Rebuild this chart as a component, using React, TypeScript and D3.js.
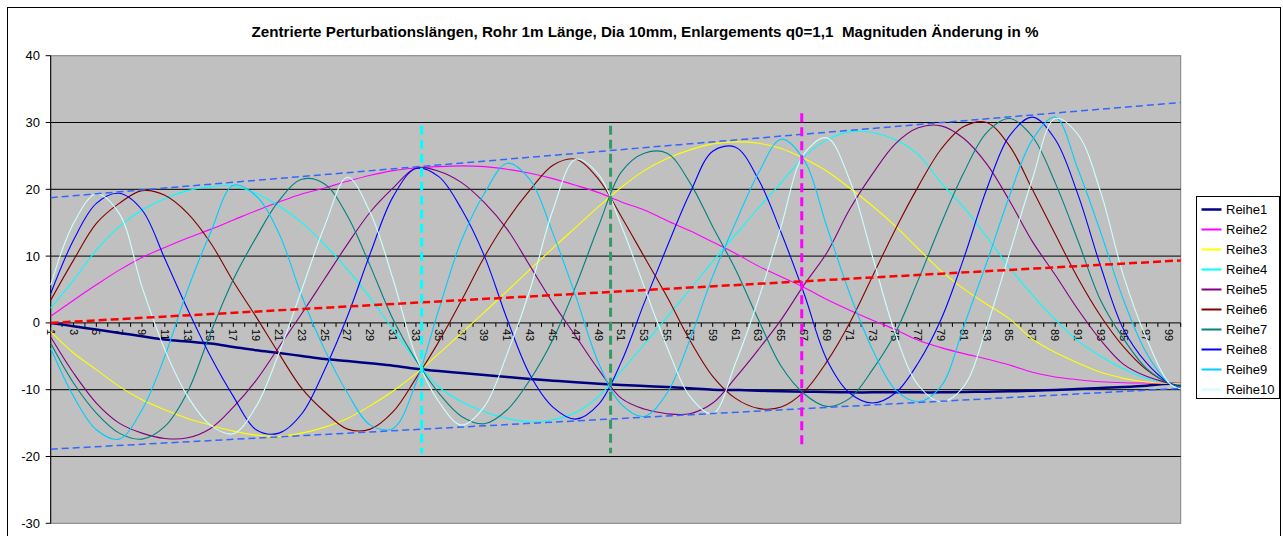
import * as d3 from "d3";

// categories sampled on the odd ticks plus the last point
const categories = [
  1, 3, 5, 7, 9, 11, 13, 15, 17, 19, 21, 23, 25, 27, 29, 31, 33, 35, 37, 39, 41, 43, 45, 47, 49,
  51, 53, 55, 57, 59, 61, 63, 65, 67, 69, 71, 73, 75, 77, 79, 81, 83, 85, 87, 89, 91, 93, 95, 97, 99, 100,
];

const reihe1 = [
  0, -0.5, -1.0, -1.5, -2.0, -2.5, -2.8, -3.1, -3.6, -4.1, -4.5, -4.95, -5.4, -5.7, -6.05, -6.4, -6.85,
  -7.2, -7.5, -7.8, -8.1, -8.4, -8.65, -8.9, -9.1, -9.3, -9.45, -9.6, -9.8, -10.0, -10.05, -10.15, -10.25,
  -10.3, -10.35, -10.4, -10.4, -10.4, -10.4, -10.4, -10.35, -10.3, -10.25, -10.15, -10.05, -9.9, -9.75,
  -9.6, -9.4, -9.1, -9.2,
];
const reihe2 = [
  1.0, 3.4, 5.7, 7.9, 9.8, 11.3, 12.7, 14.0, 15.4, 16.8, 18.1, 19.3, 20.2, 21.2, 22.1, 22.8, 23.2,
  23.4, 23.5, 23.4, 23.0, 22.4, 21.6, 20.6, 19.5, 18.1, 16.9, 15.3, 13.8, 12.1, 10.4, 8.5, 6.9,
  5.3, 3.5, 1.9, 0.4, -1.0, -2.6, -3.7, -4.6, -5.4, -6.3, -7.4, -8.1, -8.5, -8.8, -8.95, -9.0, -9.05, -9.0,
];
const reihe3 = [
  -1.3, -4.5, -7.0, -9.5, -11.5, -13.0, -14.3, -15.3, -16.2, -16.8, -17.0, -16.5, -15.6, -14.3, -12.4,
  -10.2, -7.6, -4.6, -1.5, 1.6, 4.8, 8.0, 11.2, 14.3, 17.4, 20.3, 22.8, 24.6, 25.9, 26.8, 27.1, 26.9,
  26.1, 24.6, 22.7, 20.2, 17.5, 14.5, 11.1, 7.8, 5.1, 2.8, 0.6, -2.4, -4.4, -6.0, -7.4, -8.3, -8.85,
  -9.05, -9.1,
];
const reihe4 = [
  2.2, 6.4, 10.9, 14.4, 16.9, 18.6, 19.8, 20.4, 20.5, 19.4, 17.5, 15.0, 11.7, 8.0, 3.7, -1.0, -5.6,
  -9.6, -11.8, -13.3, -14.3, -14.8, -14.5, -13.4, -11.0, -7.2, -3.2, 0.9, 5.0, 9.2, 13.2, 17.2, 21.0,
  24.9, 27.4, 28.6, 28.5, 27.4, 25.2, 21.0, 17.3, 12.9, 8.3, 4.2, 0.5, -2.7, -5.0, -6.9, -8.3, -9.05, -9.3,
];
const reihe5 = [
  -2.1, -7.5, -12.0, -15.0, -16.5, -17.3, -17.2, -15.8, -12.6, -8.6, -3.6, 1.4, 6.6, 11.8, 16.6, 20.2,
  23.2, 22.7, 21.0, 18.0, 14.0, 8.5, 3.0, -2.0, -7.0, -11.3, -12.9, -13.6, -13.6, -12.0, -8.2, -4.0,
  0.5, 5.7, 10.5, 17.0, 22.3, 26.8, 29.2, 29.5, 27.6, 23.8, 18.3, 12.2, 7.2, 2.0, -2.6, -6.2, -8.0,
  -9.05, -9.4,
];
const reihe6 = [
  3.4, 9.4, 14.9, 17.9, 19.8, 19.1, 16.4, 12.0, 6.2, 0.9, -4.6, -9.8, -13.3, -15.9, -15.9, -13.3, -8.3,
  -2.8, 3.4, 9.9, 15.4, 19.9, 23.6, 24.5, 21.5, 15.9, 9.9, 3.9, -2.6, -8.0, -11.3, -12.8, -12.6, -10.3,
  -5.8, 0.0, 7.0, 14.0, 20.4, 26.0, 29.4, 30.0, 26.5, 20.0, 13.3, 6.7, 1.0, -3.6, -7.0, -9.05, -9.5,
];
const reihe7 = [
  -3.05, -9.0, -13.5, -16.5, -17.4, -15.5, -10.3, -1.5, 6.5, 12.8, 18.3, 21.5, 20.8, 16.0, 8.5, 0.5,
  -5.6, -10.5, -14.0, -15.1, -13.0, -8.5, -2.5, 5.5, 14.5, 22.6, 25.4, 25.4, 21.0, 14.4, 8.0, 0.5,
  -6.5, -10.6, -12.5, -11.3, -7.0, -1.5, 6.4, 14.8, 22.5, 28.5, 30.6, 27.9, 21.0, 12.3, 3.3, -2.4,
  -6.8, -9.05, -9.6,
];
const reihe8 = [
  4.4, 12.4, 17.9, 19.4, 16.9, 9.6, 2.0, -5.0, -11.0, -16.0, -16.5, -13.6, -7.0, 1.0, 10.4, 18.9,
  23.1, 21.9, 17.0, 10.0, 0.5, -7.8, -12.6, -14.4, -12.2, -5.8, 3.0, 11.4, 19.4, 25.7, 26.3, 21.5,
  13.5, 4.4, -5.5, -10.5, -12.0, -10.5, -6.0, 0.5, 9.7, 20.0, 28.0, 30.8, 27.5, 19.2, 8.4, -1.0,
  -6.0, -9.05, -9.8,
];
const reihe9 = [
  -3.8, -11.0, -16.0, -17.4, -13.0, -5.0, 5.0, 13.5, 20.6, 19.0, 13.4, 4.0, -4.0, -10.5, -15.3,
  -15.8, -9.0, 2.0, 12.4, 19.4, 23.9, 21.4, 13.4, 4.0, -6.0, -12.2, -14.0, -10.5, -2.5, 7.0, 15.0,
  22.4, 27.5, 24.4, 14.4, 4.4, -4.0, -10.0, -11.8, -9.5, -0.5, 9.0, 19.0, 27.4, 30.8, 23.0, 13.5,
  3.4, -4.5, -9.05, -9.8,
];
const reihe10 = [
  5.65, 14.9, 19.3, 16.4, 5.4, -4.0, -11.0, -15.3, -16.6, -12.5, -4.5, 5.0, 14.5, 21.8, 16.5, 6.5,
  -5.0, -11.8, -15.3, -12.5, -4.6, 5.0, 16.9, 24.5, 22.2, 14.5, 5.4, -3.6, -11.0, -13.6, -6.0, 3.5,
  14.5, 25.3, 27.7, 21.4, 9.9, -1.6, -9.3, -11.8, -9.5, -0.6, 10.4, 21.5, 30.6, 28.2, 19.5, 7.0,
  -2.3, -9.05, -9.9,
];

const seriesNames = ["Reihe1", "Reihe2", "Reihe3", "Reihe4", "Reihe5", "Reihe6", "Reihe7", "Reihe8", "Reihe9", "Reihe10"];
const seriesColors = ["#000080", "#FF00FF", "#FFFF00", "#00FFFF", "#800080", "#800000", "#008080", "#0000FF", "#00CCFF", "#CCFFFF"];
const seriesValues = [reihe1, reihe2, reihe3, reihe4, reihe5, reihe6, reihe7, reihe8, reihe9, reihe10];

const yTicks = [-30, -20, -10, 0, 10, 20, 30, 40];

// hand drawn helper lines
const trendCats = [1, 100];
const upperTrend = [18.75, 33.0];
const lowerTrend = [-18.9, -9.8];
const midTrend = [0, 9.35];
const markerCats = [33.5, 50.05, 66.8];
const markerColors = ["#00FFFF", "#339966", "#FF00FF"];
const markerTop = [29.5, 29.5, 31.4];
const markerBottom = [-19.5, -19.5, -18.8];

const title =
  "Zentrierte Perturbationslängen, Rohr 1m Länge, Dia 10mm, Enlargements q0=1,1  Magnituden Änderung in %";

const FONT = "'Liberation Sans', Arial, sans-serif";

export default function App() {
  const width = 1283;
  const height = 536;

  const x = d3.scaleLinear().domain([1, 100]).range([50.7, 1180.7]);
  const y = d3.scaleLinear().domain([-30, 40]).range([523.3, 55.7]);

  const line = d3
    .line<number>()
    .x((_d: number, i: number) => x(categories[i]))
    .y((d: number) => y(d))
    .curve(d3.curveCatmullRom.alpha(0.5));

  const trendLine = d3
    .line<number>()
    .x((_d: number, i: number) => x(trendCats[i]))
    .y((d: number) => y(d));

  const allCats = d3.range(1, 101);
  const labelCats = categories.filter((c) => c % 2 === 1);

  const x0 = x(1);
  const x1 = x(100);
  const yTop = y(40);
  const yBottom = y(-30);
  const yZero = y(0);

  return (
    <svg
      width={width}
      height={height}
      style={{ position: "absolute", left: 0, top: 0, background: "#fff" }}
      fontFamily={FONT}
    >
      <rect x={7.5} y={7.5} width={1273} height={600} fill="#fff" stroke="#000" strokeWidth={1} />

      <text
        x={645}
        y={37}
        textAnchor="middle"
        fontSize={15.2}
        fontWeight="bold"
        style={{ whiteSpace: "pre" }}
      >
        {title}
      </text>

      {/* plot area */}
      <rect x={x0} y={yTop} width={x1 - x0} height={yBottom - yTop} fill="#C0C0C0" stroke="#808080" />

      {yTicks
        .filter((t) => t !== 40 && t !== -30 && t !== 0)
        .map((t) => (
          <line key={t} x1={x0} x2={x1} y1={y(t)} y2={y(t)} stroke="#000" strokeWidth={1} />
        ))}

      {/* y axis */}
      <line x1={x0} x2={x0} y1={yTop} y2={yBottom} stroke="#000" />
      {yTicks.map((t) => (
        <g key={t}>
          <line x1={x0 - 5} x2={x0} y1={y(t)} y2={y(t)} stroke="#000" />
          <text x={40} y={y(t)} textAnchor="end" dominantBaseline="central" fontSize={13}>
            {t}
          </text>
        </g>
      ))}

      {/* category axis at zero */}
      <line x1={x0} x2={x1} y1={yZero} y2={yZero} stroke="#000" />
      {allCats.map((c) => (
        <line key={c} x1={x(c)} x2={x(c)} y1={yZero} y2={yZero + 4} stroke="#000" />
      ))}
      {labelCats.map((c) => (
        <text
          key={c}
          transform={`translate(${x(c)},${yZero + 6}) rotate(90)`}
          textAnchor="start"
          dominantBaseline="central"
          fontSize={11}
        >
          {c}
        </text>
      ))}

      {/* series */}
      {seriesValues.map((vals, i) => (
        <path
          key={seriesNames[i]}
          d={line(vals) ?? ""}
          fill="none"
          stroke={seriesColors[i]}
          strokeWidth={i === 0 ? 2.5 : 1.1}
        />
      ))}

      {/* helper lines */}
      <path d={trendLine(upperTrend) ?? ""} fill="none" stroke="#3366FF" strokeWidth={1.5} strokeDasharray="7,4" />
      <path d={trendLine(lowerTrend) ?? ""} fill="none" stroke="#3366FF" strokeWidth={1.5} strokeDasharray="7,4" />
      <path d={trendLine(midTrend) ?? ""} fill="none" stroke="#FF0000" strokeWidth={2.5} strokeDasharray="8,4" />
      {markerCats.map((c, i) => (
        <line
          key={c}
          x1={x(c)}
          x2={x(c)}
          y1={y(markerTop[i])}
          y2={y(markerBottom[i])}
          stroke={markerColors[i]}
          strokeWidth={3}
          strokeDasharray="9,5"
        />
      ))}

      {/* legend */}
      <g>
        <rect x={1196.5} y={196.5} width={83} height={202} fill="#fff" stroke="#000" />
        {seriesNames.map((name, i) => (
          <g key={name} transform={`translate(0,${209.5 + i * 20})`}>
            <line x1={1201.5} x2={1221.5} y1={0} y2={0} stroke={seriesColors[i]} strokeWidth={i === 0 ? 2.5 : 2} />
            <text x={1226} y={0} dominantBaseline="central" fontSize={13}>
              {name}
            </text>
          </g>
        ))}
      </g>
    </svg>
  );
}
